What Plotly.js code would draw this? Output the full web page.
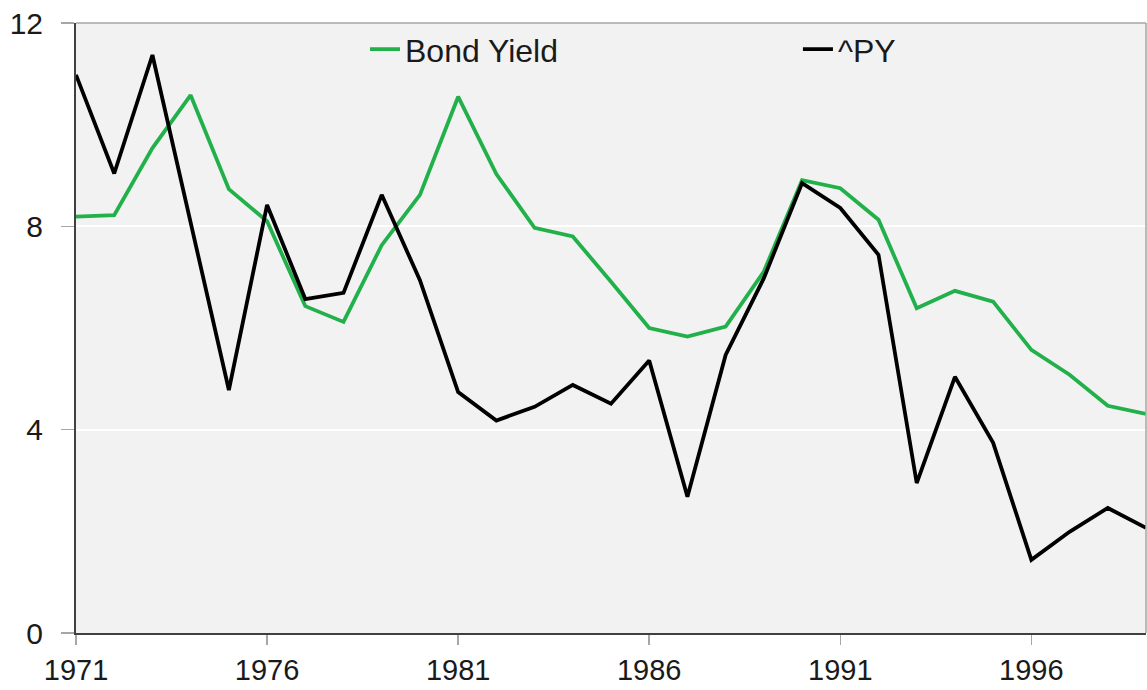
<!DOCTYPE html>
<html>
<head>
<meta charset="utf-8">
<script src="https://cdn.plot.ly/plotly-3.0.1.min.js"></script>
<style>html,body{margin:0;padding:0;background:#fff;}#chart{width:1147px;height:690px;}</style>
</head>
<body>
<div id="chart"></div>
<script>
var years = [1971,1972,1973,1974,1975,1976,1977,1978,1979,1980,1981,1982,1983,1984,1985,1986,1987,1988,1989,1990,1991,1992,1993,1994,1995,1996,1997,1998,1999];
var bondYield = [8.19,8.22,9.54,10.58,8.73,8.10,6.43,6.12,7.63,8.62,10.55,9.03,7.97,7.80,6.91,6.00,5.83,6.03,7.11,8.91,8.75,8.13,6.39,6.73,6.52,5.57,5.08,4.47,4.31];
var py = [10.98,9.04,11.37,8.10,4.78,8.42,6.57,6.69,8.62,6.94,4.74,4.18,4.45,4.88,4.51,5.36,2.68,5.47,6.98,8.85,8.36,7.44,2.95,5.04,3.74,1.44,1.99,2.46,2.07];
var seriesNames = ['Bond Yield','^PY'];
var xTicks = [1971,1976,1981,1986,1991,1996];
var yTicks = [0,4,8,12];

var traces = [
  {x: years, y: bondYield, name: seriesNames[0], type: 'scatter', mode: 'lines',
   line: {color: '#22b04b', width: 3.8}, legend: 'legend'},
  {x: years, y: py, name: seriesNames[1], type: 'scatter', mode: 'lines',
   line: {color: '#000000', width: 3.8}, legend: 'legend2'}
];

var legendFont = {family: 'Liberation Sans, Arial, sans-serif', size: 32, color: '#1a1a1a'};

var layout = {
  width: 1147, height: 690,
  margin: {l: 76, r: 1, t: 23, b: 57},
  paper_bgcolor: '#ffffff',
  plot_bgcolor: '#f2f2f2',
  font: {family: 'Liberation Sans, Arial, sans-serif', color: '#1a1a1a', size: 29},
  xaxis: {
    range: [1971, 1999], tickvals: xTicks, ticktext: xTicks.map(String),
    showgrid: false, zeroline: false,
    showline: true, linecolor: '#404040', linewidth: 2,
    ticks: 'outside', ticklen: 10, tickwidth: 1.5, tickcolor: '#a6a6a6',
    tickfont: {size: 29, color: '#1a1a1a'}
  },
  yaxis: {
    range: [0, 12], tickvals: yTicks, ticktext: yTicks.map(String),
    showgrid: true, gridcolor: '#ffffff', gridwidth: 2, zeroline: false,
    showline: true, linecolor: '#404040', linewidth: 2,
    ticks: 'outside', ticklen: 13, tickwidth: 1.5, tickcolor: '#a6a6a6',
    ticklabelstandoff: 12,
    tickfont: {size: 30, color: '#1a1a1a'}
  },
  showlegend: true,
  legend: {
    orientation: 'h', x: 0.2701, xanchor: 'left', y: 0.957, yanchor: 'middle',
    bgcolor: 'rgba(0,0,0,0)', borderwidth: 0, font: legendFont
  },
  legend2: {
    orientation: 'h', x: 0.6747, xanchor: 'left', y: 0.957, yanchor: 'middle',
    bgcolor: 'rgba(0,0,0,0)', borderwidth: 0, font: legendFont
  },
  shapes: [
    {type: 'line', xref: 'paper', yref: 'paper', x0: 0, x1: 1, y0: 1, y1: 1,
     line: {color: '#a6a6a6', width: 1.5}, layer: 'above'},
    {type: 'line', xref: 'paper', yref: 'paper', x0: 1, x1: 1, y0: 0, y1: 1,
     line: {color: '#a6a6a6', width: 1.5}, layer: 'above'}
  ]
};

Plotly.newPlot('chart', traces, layout, {displayModeBar: false, staticPlot: true});
</script>
</body>
</html>
